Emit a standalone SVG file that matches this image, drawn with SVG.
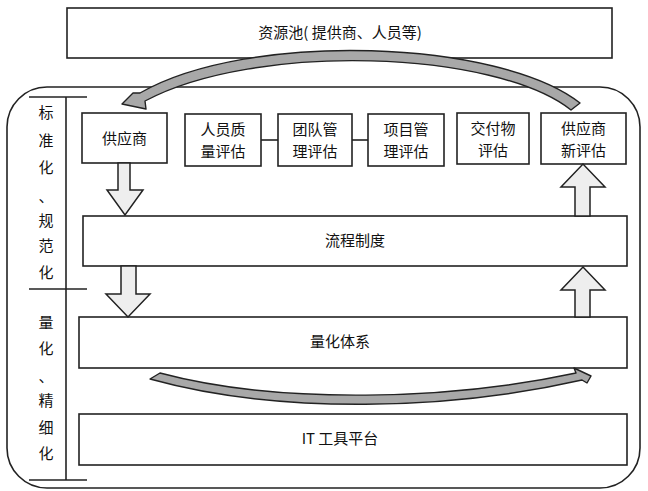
<svg xmlns="http://www.w3.org/2000/svg" width="648" height="491" viewBox="0 0 648 491">
<style>
.box{fill:#fff;stroke:#222;stroke-width:1.6}
.t{font-family:"Noto Sans CJK SC","Liberation Sans",sans-serif;font-size:15px;fill:#111;text-anchor:middle}
.side{font-family:"Noto Sans CJK SC","Liberation Sans",sans-serif;font-size:15px;fill:#111;text-anchor:middle}
.ln{stroke:#222;stroke-width:1.6;fill:none}
.blk{fill:#eeeeee;stroke:#222;stroke-width:1.5;stroke-linejoin:miter}
.band{fill:#a8a8a8;stroke:#222;stroke-width:1.4;stroke-linejoin:round}
</style>
<rect width="648" height="491" fill="#fff"/>
<g id="frame">
<rect x="7" y="87" width="633" height="401" rx="40" ry="40" fill="none" stroke="#222" stroke-width="1.6"/>
</g>
<g id="pool">
<rect class="box" x="67" y="8" width="545" height="50"/>
<text class="t" x="340" y="38" font-size="16">资源池( 提供商、人员等)</text>
</g>
<g id="axis">
<line class="ln" x1="66" y1="97" x2="66" y2="480"/>
<line class="ln" x1="29" y1="97" x2="87" y2="97"/>
<line class="ln" x1="29" y1="289" x2="87" y2="289"/>
<line class="ln" x1="29" y1="480" x2="87" y2="480"/>
<text class="side" x="46" y="118">标</text>
<text class="side" x="46" y="146">准</text>
<text class="side" x="46" y="173">化</text>
<text class="side" x="46" y="202">、</text>
<text class="side" x="46" y="226">规</text>
<text class="side" x="46" y="251">范</text>
<text class="side" x="46" y="278">化</text>
<text class="side" x="46" y="328">量</text>
<text class="side" x="46" y="354">化</text>
<text class="side" x="46" y="382">、</text>
<text class="side" x="46" y="406">精</text>
<text class="side" x="46" y="433">细</text>
<text class="side" x="46" y="459">化</text>
</g>
<g id="supplier">
<rect class="box" x="82" y="113" width="85" height="50"/>
<text class="t" x="124.5" y="144">供应商</text>
</g>
<g id="staff">
<rect class="box" x="185" y="114" width="76" height="52"/>
<text class="t" x="223" y="135">人员质</text>
<text class="t" x="223" y="157">量评估</text>
</g>
<g id="team">
<rect class="box" x="278" y="114" width="74" height="52"/>
<text class="t" x="315" y="135">团队管</text>
<text class="t" x="315" y="157">理评估</text>
</g>
<g id="project">
<rect class="box" x="368" y="114" width="76" height="52"/>
<text class="t" x="406" y="135">项目管</text>
<text class="t" x="406" y="157">理评估</text>
</g>
<g id="deliverable">
<rect class="box" x="457" y="113" width="72" height="51"/>
<text class="t" x="493" y="134">交付物</text>
<text class="t" x="493" y="156">评估</text>
</g>
<g id="reeval">
<rect class="box" x="541" y="113" width="85" height="51"/>
<text class="t" x="583.5" y="134">供应商</text>
<text class="t" x="583.5" y="156">新评估</text>
</g>
<g id="process">
<rect class="box" x="83" y="216" width="544" height="50"/>
<text class="t" x="355" y="246">流程制度</text>
</g>
<g id="quant">
<rect class="box" x="79" y="317" width="548" height="51"/>
<text class="t" x="340" y="347">量化体系</text>
</g>
<g id="it">
<rect class="box" x="79" y="414" width="548" height="51"/>
<text class="t" x="340" y="444">IT 工具平台</text>
</g>
<g id="connectors">
<line class="ln" x1="261" y1="140" x2="278" y2="140"/>
<line class="ln" x1="352" y1="140" x2="368" y2="140"/>
<polygon class="blk" points="118,163 130,163 130,190 143,190 125,215 107,190 118,190"/>
<polygon class="blk" points="121,266 136,266 136,294 150,294 128,317 106,294 121,294"/>
<polygon class="blk" points="575,216 590,216 590,187 605,187 583,164 561,187 575,187"/>
<polygon class="blk" points="575,317 590,317 590,290 605,290 583,267 561,290 575,290"/>
<path class="band" d="M580,103 C500,40 250,30 140,93 L133,93 L122,104 L146,109 L145,101 C255,42 495,50 571,110 Z"/>
<path class="band" d="M160,373 C280,405 450,400 576,373 L574,368 L591,376 L587,383 L582,380 C450,410 280,415 150,379 Z"/>
</g>
</svg>
